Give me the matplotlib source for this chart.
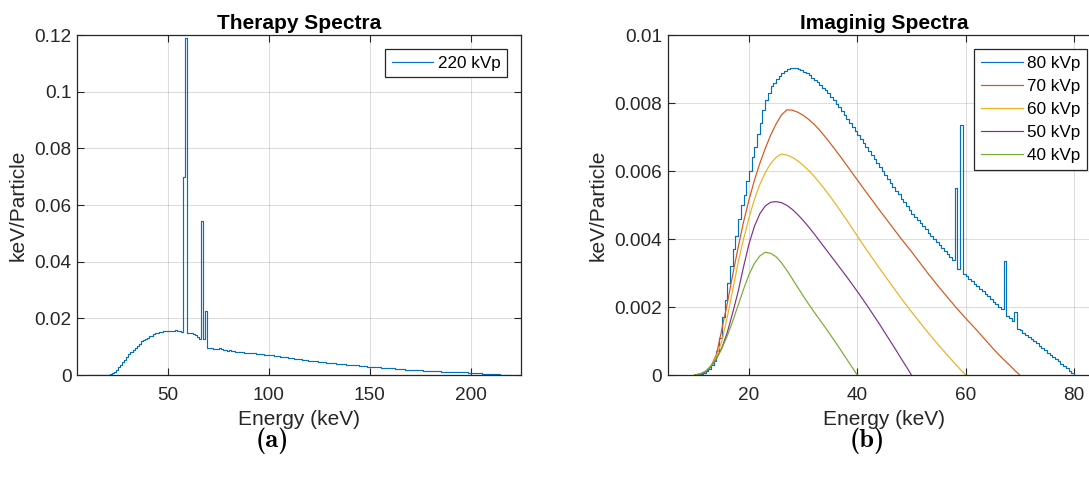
import numpy as np
import matplotlib
matplotlib.use("Agg")
import matplotlib.pyplot as plt
from matplotlib.ticker import FuncFormatter

# ---------------------------------------------------------------------------
# Spectra data (keV/Particle)
# ---------------------------------------------------------------------------
# 220 kVp therapy spectrum, 1 keV bins from 10 to 220 keV
therapy_energy = np.arange(10, 221, 1)
therapy_220 = [
    0, 0, 0, 0, 0, 0, 0, 0, 0, 0,                                                      # 10-19
    0, 0.0001, 0.0003, 0.0006, 0.0011, 0.0018, 0.0027, 0.0036, 0.0045, 0.0054,          # 20-29
    0.0064, 0.0073, 0.0082, 0.0090, 0.0097, 0.0104, 0.0111, 0.0119, 0.0123, 0.0128,     # 30-39
    0.0131, 0.0136, 0.0139, 0.0143, 0.0150, 0.0148, 0.0153, 0.0151, 0.0155, 0.0154,     # 40-49
    0.0157, 0.0155, 0.0156, 0.0154, 0.0158, 0.0155, 0.0156, 0.0153, 0.0700, 0.1190,     # 50-59
    0.0150, 0.0148, 0.0150, 0.0145, 0.0142, 0.0135, 0.0128, 0.0545, 0.0128, 0.0225,     # 60-69
    0.0096, 0.0094, 0.0095, 0.0092, 0.0093, 0.0091, 0.0096, 0.0093, 0.0088, 0.0089,     # 70-79
    0.0086, 0.0087, 0.0084, 0.0083, 0.0082, 0.0082, 0.0080, 0.0080, 0.0079, 0.0078,     # 80-89
    0.0078, 0.0077, 0.0076, 0.0076, 0.0075, 0.0074, 0.0074, 0.0073, 0.0072, 0.0072,     # 90-99
    0.0071, 0.0070, 0.0069, 0.0068, 0.0067, 0.0066, 0.0065, 0.0064, 0.0063, 0.0062,     # 100-109
    0.0061, 0.0060, 0.0059, 0.0058, 0.0057, 0.0056, 0.0055, 0.0054, 0.0053, 0.0052,     # 110-119
    0.0051, 0.0050, 0.0049, 0.0049, 0.0048, 0.0047, 0.0046, 0.0046, 0.0045, 0.0044,     # 120-129
    0.0043, 0.0043, 0.0042, 0.0041, 0.0040, 0.0040, 0.0039, 0.0038, 0.0038, 0.0037,     # 130-139
    0.0036, 0.0036, 0.0035, 0.0034, 0.0034, 0.0033, 0.0032, 0.0032, 0.0031, 0.0030,     # 140-149
    0.0029, 0.0029, 0.0028, 0.0028, 0.0027, 0.0027, 0.0026, 0.0026, 0.0025, 0.0024,     # 150-159
    0.0024, 0.0023, 0.0023, 0.0022, 0.0022, 0.0021, 0.0020, 0.0020, 0.0019, 0.0019,     # 160-169
    0.0018, 0.0018, 0.0017, 0.0017, 0.0017, 0.0016, 0.0016, 0.0015, 0.0015, 0.0015,     # 170-179
    0.0014, 0.0014, 0.0014, 0.0013, 0.0013, 0.0013, 0.0012, 0.0012, 0.0012, 0.0011,     # 180-189
    0.0011, 0.0011, 0.0010, 0.0010, 0.0010, 0.0010, 0.0009, 0.0009, 0.0009, 0.0008,     # 190-199
    0.0008, 0.0008, 0.0007, 0.0007, 0.0006, 0.0006, 0.0005, 0.0005, 0.0004, 0.0004,     # 200-209
    0.0003, 0.0003, 0.0003, 0.0002, 0.0002, 0.0001, 0.0001, 0.0001, 0.0000, 0.0000,     # 210-219
    0.0000,                                                                             # 220
]

# 80 kVp imaging spectrum, 0.5 keV bins from 10 to 80 keV
energy_80 = np.arange(10, 80.25, 0.5)
kvp_80 = [
    0, 0.00001, 0.00003, 0.00006, 0.00011, 0.00018, 0.00028, 0.00042, 0.00070, 0.00110,          # 10-14.5
    0.0017, 0.0022, 0.0027, 0.0032, 0.0037, 0.0041, 0.0046, 0.0050, 0.0053, 0.0057,              # 15-19.5
    0.0060, 0.0064, 0.0067, 0.0071, 0.0074, 0.0078, 0.0081, 0.0083, 0.0085, 0.0086,              # 20-24.5
    0.0087, 0.0088, 0.00888, 0.00895, 0.00900, 0.00903, 0.00904, 0.00904, 0.00901, 0.00897,      # 25-29.5
    0.00892, 0.00887, 0.00881, 0.00875, 0.00868, 0.00861, 0.00853, 0.00845, 0.00837, 0.00828,    # 30-34.5
    0.00819, 0.00809, 0.00798, 0.00787, 0.00776, 0.00765, 0.00753, 0.00742, 0.00730, 0.00718,    # 35-39.5
    0.00706, 0.00694, 0.00682, 0.00670, 0.00659, 0.00647, 0.00635, 0.00623, 0.00611, 0.00600,    # 40-44.5
    0.00588, 0.00576, 0.00565, 0.00553, 0.00542, 0.00531, 0.00519, 0.00508, 0.00497, 0.00486,    # 45-49.5
    0.00475, 0.00465, 0.00456, 0.00446, 0.00437, 0.00428, 0.00419, 0.00409, 0.00400, 0.00391,    # 50-54.5
    0.00382, 0.00373, 0.00364, 0.00355, 0.00346, 0.00337, 0.00550, 0.00312, 0.00735, 0.00297,    # 55-59.5
    0.00290, 0.00283, 0.00276, 0.00268, 0.00261, 0.00254, 0.00246, 0.00239, 0.00231, 0.00224,    # 60-64.5
    0.00216, 0.00209, 0.00201, 0.00194, 0.00335, 0.00174, 0.00167, 0.00160, 0.00185, 0.00136,    # 65-69.5
    0.00132, 0.00125, 0.00119, 0.00112, 0.00106, 0.00099, 0.00093, 0.00086, 0.00079, 0.00073,    # 70-74.5
    0.00066, 0.00059, 0.00053, 0.00046, 0.00040, 0.00033, 0.00026, 0.00020, 0.00013, 0.00007,    # 75-79.5
    0.0,                                                                                         # 80
]

# 70, 60, 50 and 40 kVp imaging spectra, 1 keV spacing starting at 10 keV
energy_70 = np.arange(10, 71, 1)
kvp_70 = [
    0, 0.00003, 0.0001, 0.00027, 0.00060, 0.00135, 0.0021, 0.00295, 0.00375, 0.00450,            # 10-19
    0.00515, 0.00572, 0.00622, 0.00666, 0.00705, 0.00738, 0.00765, 0.00780, 0.00779, 0.00773,    # 20-29
    0.00764, 0.00752, 0.00738, 0.00721, 0.00702, 0.00682, 0.00661, 0.00640, 0.00618, 0.00596,    # 30-39
    0.00574, 0.00552, 0.00530, 0.00509, 0.00487, 0.00466, 0.00445, 0.00424, 0.00403, 0.00383,    # 40-49
    0.00363, 0.00342, 0.00321, 0.00300, 0.00280, 0.00260, 0.00241, 0.00222, 0.00203, 0.00185,    # 50-59
    0.00167, 0.00150, 0.00133, 0.00115, 0.00097, 0.00079, 0.00062, 0.00046, 0.00031, 0.00015,    # 60-69
    0.0,                                                                                         # 70
]

energy_60 = np.arange(10, 61, 1)
kvp_60 = [
    0, 0.00003, 0.0001, 0.00026, 0.00055, 0.0010, 0.0017, 0.0025, 0.0033, 0.0040,                # 10-19
    0.00462, 0.00516, 0.00560, 0.00595, 0.00622, 0.00640, 0.00650, 0.00647, 0.00640, 0.00630,    # 20-29
    0.00617, 0.00602, 0.00585, 0.00566, 0.00546, 0.00525, 0.00503, 0.00480, 0.00457, 0.00433,    # 30-39
    0.00409, 0.00385, 0.00362, 0.00339, 0.00316, 0.00294, 0.00272, 0.00250, 0.00228, 0.00207,    # 40-49
    0.00186, 0.00166, 0.00146, 0.00126, 0.00107, 0.00088, 0.00070, 0.00052, 0.00034, 0.00017,    # 50-59
    0.0,                                                                                         # 60
]

energy_50 = np.arange(10, 51, 1)
kvp_50 = [
    0, 0.00003, 0.0001, 0.00024, 0.00048, 0.00080, 0.00125, 0.00183, 0.00245, 0.00318,           # 10-19
    0.00385, 0.00437, 0.00474, 0.00497, 0.00508, 0.00510, 0.00507, 0.00499, 0.00487, 0.00472,    # 20-29
    0.00455, 0.00436, 0.00416, 0.00395, 0.00374, 0.00353, 0.00332, 0.00311, 0.00290, 0.00268,    # 30-39
    0.00246, 0.00223, 0.00200, 0.00176, 0.00152, 0.00127, 0.00102, 0.00077, 0.00051, 0.00026,    # 40-49
    0.0,                                                                                         # 50
]

energy_40 = np.arange(10, 41, 1)
kvp_40 = [
    0, 0.00003, 0.00011, 0.00026, 0.00048, 0.00078, 0.00115, 0.00158, 0.00205, 0.00252,          # 10-19
    0.00295, 0.00328, 0.00350, 0.00361, 0.00358, 0.00348, 0.00330, 0.00308, 0.00283, 0.00258,    # 20-29
    0.00233, 0.00209, 0.00186, 0.00164, 0.00142, 0.00119, 0.00096, 0.00072, 0.00048, 0.00024,    # 30-39
    0.0,                                                                                         # 40
]

therapy_xticks = [50, 100, 150, 200]
therapy_yticks = [0, 0.02, 0.04, 0.06, 0.08, 0.1, 0.12]
imaging_xticks = [20, 40, 60, 80]
imaging_yticks = [0, 0.002, 0.004, 0.006, 0.008, 0.01]

# MATLAB default line colours
C_BLUE = "#0072BD"
C_RED = "#D95319"
C_YELLOW = "#EDB120"
C_PURPLE = "#7E2F8E"
C_GREEN = "#77AC30"
AX_GRAY = "#262626"

TICK_FS = 13.7
LABEL_FS = 15
LEGEND_FS = 12.3
LW = 0.85

plt.rcParams["font.family"] = ["Liberation Sans", "DejaVu Sans"]

W, H = 1089, 480
fig = plt.figure(figsize=(W / 100, H / 100), dpi=100)


def px_axes(left, top, right, bottom):
    return fig.add_axes([left / W, 1 - bottom / H, (right - left) / W, (bottom - top) / H])


def style_axes(ax, xticks, yticks):
    ax.set_xticks(xticks)
    ax.set_yticks(yticks)
    ax.yaxis.set_major_formatter(FuncFormatter(lambda v, p: f"{v:g}"))
    ax.grid(True, color="#262626", alpha=0.15, linewidth=0.8)
    ax.set_axisbelow(True)
    ax.tick_params(direction="in", length=5, width=0.8, colors=AX_GRAY,
                   labelsize=TICK_FS, top=True, right=True)
    ax.tick_params(axis="x", pad=9)
    ax.tick_params(axis="y", pad=4)
    for s in ax.spines.values():
        s.set_color(AX_GRAY)
        s.set_linewidth(0.9)
    ax.set_xlabel("Energy (keV)", fontsize=LABEL_FS, color=AX_GRAY, labelpad=4)
    ax.set_ylabel("keV/Particle", fontsize=LABEL_FS, color=AX_GRAY, labelpad=5)


def style_legend(ax):
    leg = ax.legend(loc="upper right", fontsize=LEGEND_FS, handlelength=2.44,
                    fancybox=False, framealpha=1, borderpad=0.4,
                    borderaxespad=0.8, handletextpad=0.25, labelspacing=0.48)
    leg.get_frame().set_edgecolor(AX_GRAY)
    leg.get_frame().set_linewidth(0.9)
    return leg


# ---------------------------------------------------------------------------
# (a) Therapy spectrum
# ---------------------------------------------------------------------------
ax1 = px_axes(77, 35, 521, 375)
ax1.plot(therapy_energy, therapy_220, drawstyle="steps-mid", color=C_BLUE,
         linewidth=LW, label="220 kVp")
ax1.set_xlim(5, 225)
ax1.set_ylim(0, 0.12)
style_axes(ax1, therapy_xticks, therapy_yticks)
ax1.set_title("Therapy Spectra", fontsize=LABEL_FS, fontweight="bold", pad=4)
style_legend(ax1)

# ---------------------------------------------------------------------------
# (b) Imaging spectra (axes box runs past the right edge of the figure)
# ---------------------------------------------------------------------------
ax2 = px_axes(667.7, 35, 1101, 375)
ax2.plot(energy_80, kvp_80, drawstyle="steps-post", color=C_BLUE,
         linewidth=LW, label="80 kVp")
ax2.plot(energy_70, kvp_70, color=C_RED, linewidth=LW, label="70 kVp")
ax2.plot(energy_60, kvp_60, color=C_YELLOW, linewidth=LW, label="60 kVp")
ax2.plot(energy_50, kvp_50, color=C_PURPLE, linewidth=LW, label="50 kVp")
ax2.plot(energy_40, kvp_40, color=C_GREEN, linewidth=LW, label="40 kVp")
ax2.set_xlim(5, 85)
ax2.set_ylim(0, 0.01)
style_axes(ax2, imaging_xticks, imaging_yticks)
ax2.set_title("Imaginig Spectra", fontsize=LABEL_FS, fontweight="bold", pad=4,
              x=(884 - 667.7) / (1101 - 667.7))
style_legend(ax2)

# sub-figure captions
cap_font = dict(family=["cmb10", "DejaVu Serif"], fontsize=19)
fig.text(272 / W, 1 - 441 / H, "(a)", ha="center", va="center", **cap_font)
fig.text(867 / W, 1 - 441 / H, "(b)", ha="center", va="center", **cap_font)

fig.savefig("out.png", dpi=100)
